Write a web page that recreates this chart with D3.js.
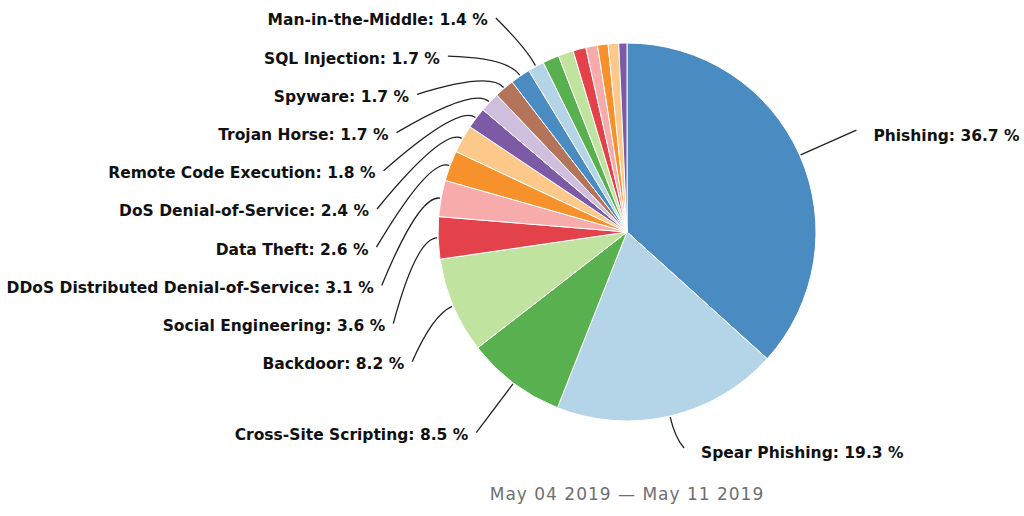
<!DOCTYPE html>
<html>
<head>
<meta charset="utf-8">
<script src="https://cdn.jsdelivr.net/npm/d3@7"></script>
<style>
  body { margin: 0; background: #fff; }
  svg { display: block; }
  .lbl { font-family: "DejaVu Sans", Verdana, sans-serif; font-weight: bold; font-size: 15.5px; fill: #111; }
  .caption { font-family: "DejaVu Sans", Verdana, sans-serif; font-size: 17px; letter-spacing: 1px; fill: #6f6f6f; }
</style>
</head>
<body>
<div id="chart"></div>
<script>
// attack types, clockwise from 12 o'clock (last ones carry no label in the picture)
var categories = ["Phishing", "Spear Phishing", "Cross-Site Scripting", "Backdoor",
  "Social Engineering", "DDoS Distributed Denial-of-Service", "Data Theft",
  "DoS Denial-of-Service", "Remote Code Execution", "Trojan Horse", "Spyware",
  "SQL Injection", "Man-in-the-Middle", "", "", "", "", "", "", ""];
var values = [36.7, 19.3, 8.5, 8.2, 3.6, 3.1, 2.6, 2.4, 1.8, 1.7, 1.7, 1.7, 1.4,
  1.4, 1.3, 1.1, 1.0, 0.9, 0.9, 0.7];
var palette = ["#4a8cc2", "#b4d5e8", "#58b04f", "#c1e3a0", "#e3424a", "#f8abab",
  "#f7912c", "#fcc98a", "#7c5aa6", "#d0bedf", "#b4745a"];
var caption = "May 04 2019 \u2014 May 11 2019";

var width = 1024, height = 516;
var cx = 627, cy = 232, radius = 189;
var labelRadius = 251, lineGap = 38.2, topY = 18, bottomY = 448;

var svg = d3.select("#chart").append("svg")
  .attr("width", width)
  .attr("height", height);

var color = d3.scaleOrdinal().domain(d3.range(values.length)).range(palette);

var pie = d3.pie().sort(null).value(function(d) { return d; });
var arcs = pie(values);

var arc = d3.arc().innerRadius(0).outerRadius(radius);

var g = svg.append("g").attr("transform", "translate(" + cx + "," + cy + ")");

g.selectAll("path.slice")
  .data(arcs)
  .enter().append("path")
  .attr("class", "slice")
  .attr("d", arc)
  .attr("fill", function(d, i) { return color(i); })
  .attr("stroke", "#fff")
  .attr("stroke-width", 1);

// label layout: natural spot on a circle, left side pushed apart
var labels = [];
arcs.forEach(function(a, i) {
  if (!categories[i]) return;
  var mid = (a.startAngle + a.endAngle) / 2;
  var sx = Math.sin(mid), sy = -Math.cos(mid);
  labels.push({
    i: i, mid: mid, sx: sx, sy: sy,
    left: mid > Math.PI,
    x: labelRadius * sx, y: labelRadius * sy,
    text: categories[i] + ": " + values[i] + " %"
  });
});

var left = labels.filter(function(l) { return l.left; })
  .sort(function(a, b) { return a.y - b.y; });
var prev = null;
left.forEach(function(l) {
  var ny = Math.max(l.y, topY - cy);
  if (prev !== null) ny = Math.max(ny, prev + lineGap);
  if (ny !== l.y) {
    l.y = ny;
    l.x = -Math.sqrt(Math.max(0, labelRadius * labelRadius - ny * ny));
  }
  prev = l.y;
});
labels.filter(function(l) { return !l.left; }).forEach(function(l) {
  l.y = Math.min(Math.max(l.y, topY - cy), bottomY - cy);
});

// connectors
g.selectAll("path.conn")
  .data(labels)
  .enter().append("path")
  .attr("class", "conn")
  .attr("fill", "none")
  .attr("stroke", "#222")
  .attr("stroke-width", 1.3)
  .attr("d", function(l) {
    var ex = (radius + 1) * l.sx, ey = (radius + 1) * l.sy;
    var qx = (radius + 22) * l.sx, qy = (radius + 22) * l.sy;
    return "M" + l.x + "," + l.y + "Q" + qx + "," + qy + " " + ex + "," + ey;
  });

g.selectAll("text.lbl")
  .data(labels)
  .enter().append("text")
  .attr("class", "lbl")
  .attr("x", function(l) { return l.left ? l.x - 8 : l.x + 17; })
  .attr("y", function(l) { return l.left ? l.y + 2 : l.y + 5; })
  .attr("dy", "0.35em")
  .attr("text-anchor", function(l) { return l.left ? "end" : "start"; })
  .text(function(l) { return l.text; });

svg.append("text")
  .attr("class", "caption")
  .attr("x", cx)
  .attr("y", 494)
  .attr("dy", "0.35em")
  .attr("text-anchor", "middle")
  .text(caption);
</script>
</body>
</html>
